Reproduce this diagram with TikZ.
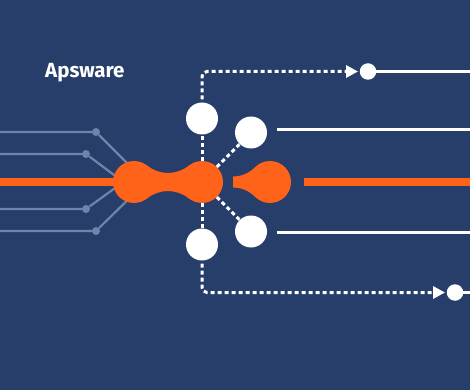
\documentclass[tikz,border=0pt]{standalone}
\usepackage{fontspec}
\setmainfont{Fira Sans}
\usetikzlibrary{arrows.meta}
\definecolor{bg}{HTML}{263E69}
\definecolor{org}{HTML}{FF6319}
\definecolor{gry}{HTML}{6E84AB}
\begin{document}
\begin{tikzpicture}[x=1pt,y=-1pt,
  wball/.style={circle,fill=white,inner sep=0pt,minimum size=32pt},
  wdot/.style={circle,fill=white,inner sep=0pt,minimum size=16.5pt},
  gdot/.style={circle,fill=gry,inner sep=0pt,minimum size=8pt},
  oball/.style={circle,fill=org,inner sep=0pt,minimum size=42pt},
  gline/.style={draw=gry,line width=2.2pt},
  oline/.style={draw=org,line width=8pt},
  wline/.style={draw=white,line width=3pt},
  dotline/.style={draw=white,line width=3pt,dash pattern=on 4pt off 3pt},
  arrowtip/.style={-{Triangle[length=12pt,width=12pt]}}]
\fill[bg] (0,0) rectangle (470,390);
\useasboundingbox (0,0) rectangle (470,390);

% title
\node[anchor=base west,inner sep=0pt,text=white,font=\fontsize{20.5}{24}\selectfont\bfseries] (title) at (45,77.5) {Apsware};

% gray fan lines
\coordinate (s1) at (0,132);
\coordinate (s2) at (0,154);
\coordinate (s4) at (0,209);
\coordinate (s5) at (0,231);
\coordinate (j1) at (140,176);
\coordinate (j2) at (122,181);
\coordinate (j4) at (122,183);
\coordinate (j5) at (140,188);
\node[gdot] (g1) at (96,132) {};
\node[gdot] (g2) at (86,154) {};
\node[gdot] (g4) at (86,209) {};
\node[gdot] (g5) at (96,231) {};
\draw[gline] (s1) -- (g1) -- (j1);
\draw[gline] (s2) -- (g2) -- (j2);
\draw[gline] (s4) -- (g4) -- (j4);
\draw[gline] (s5) -- (g5) -- (j5);

% orange input line
\coordinate (oin) at (0,182);
\coordinate (oc1) at (134,182);
\draw[oline] (oin) -- (oc1);

% orange metaballs
\node[oball] (o1) at (134,182) {};
\node[oball] (o2) at (202,182) {};
\node[oball] (o3) at (270,182) {};
\fill[org] (147.2,165.6) arc[start angle=128.9,end angle=51.1,radius=33.2]
  -- (188.8,198.4) arc[start angle=-51.1,end angle=-128.9,radius=33.2] -- cycle;
\fill[org] (233,176.5) arc[start angle=90,end angle=44.6,radius=30.9]
  -- (255.0,196.7) arc[start angle=-44.6,end angle=-90,radius=30.9] -- cycle;

% orange output line
\coordinate (oo1) at (304,182);
\coordinate (oo2) at (470,182);
\draw[oline] (oo1) -- (oo2);

% white balls
\node[wball] (cA) at (202,118.5) {};
\node[wball] (cB) at (251,132.5) {};
\node[wball] (cC) at (202,244.5) {};
\node[wball] (cD) at (251,231.5) {};

% dotted links from orange ball
\draw[dotline] (o2) -- (cA);
\draw[dotline] (o2) -- (cC);
\draw[dotline] (o2) -- (cB);
\draw[dotline] (o2) -- (cD);

% small dots and lines
\node[wdot] (dT) at (368,71.5) {};
\node[wdot] (dB) at (455,292.5) {};
\coordinate (eT) at (470,71.5);
\coordinate (eB) at (470,292.5);
\draw[wline] (dT) -- (eT);
\draw[wline] (dB) -- (eB);

% dotted routes with arrows
\draw[dotline,arrowtip,rounded corners=5pt,shorten <=3pt,shorten >=1.5pt] (cA.north) |- (dT.west);
\draw[dotline,arrowtip,rounded corners=5pt,shorten <=3pt,shorten >=1.5pt] (cC.south) |- (dB.west);

% white output lines
\coordinate (lB1) at (277,130);
\coordinate (lB2) at (470,130);
\coordinate (lD1) at (277,232);
\coordinate (lD2) at (470,232);
\draw[wline] (lB1) -- (lB2);
\draw[wline] (lD1) -- (lD2);
\end{tikzpicture}
\end{document}
